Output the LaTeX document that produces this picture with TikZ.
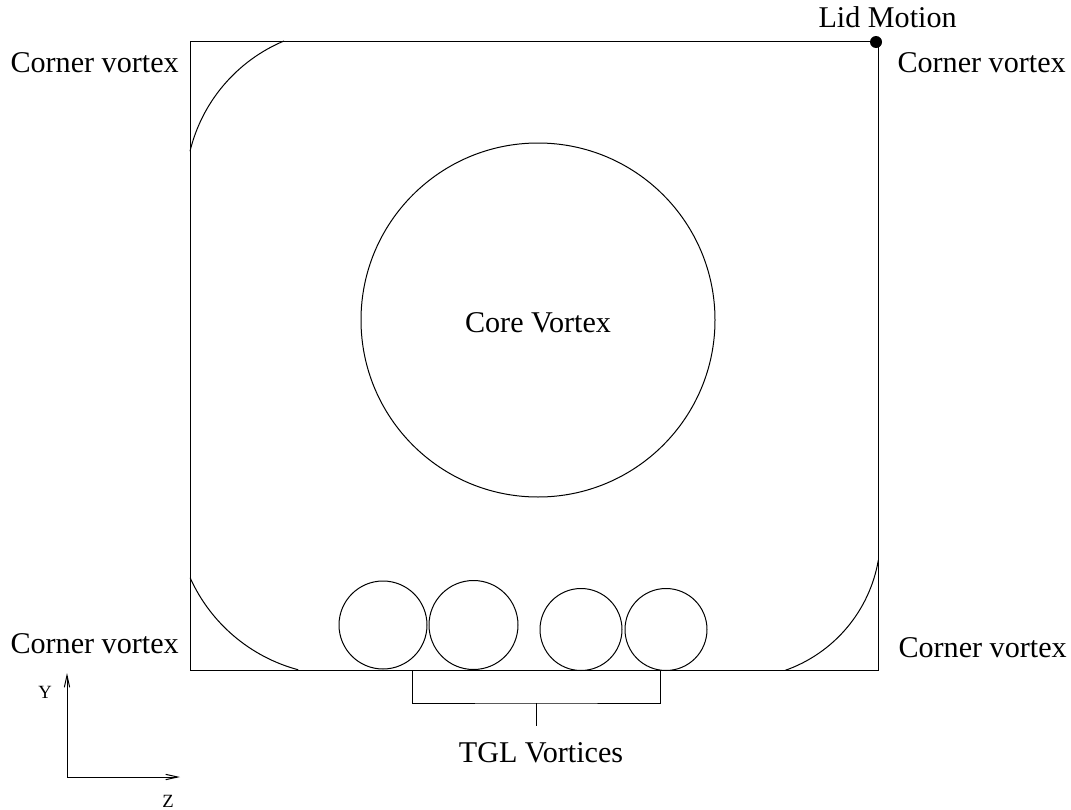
\documentclass[tikz,border=0pt]{standalone}
\usepackage{fontspec}
\setmainfont{Liberation Serif}
\usetikzlibrary{arrows.meta}

\begin{document}
\begin{tikzpicture}[x=0.75pt, y=-0.75pt, line width=0.75pt,
    >={Straight Barb[length=9pt, width=4pt]},
    lbl/.style={anchor=base west, inner sep=0pt, font=\fontsize{22.6}{27}\selectfont},
    axlbl/.style={inner sep=0pt, font=\fontsize{14}{16}\selectfont},
    vortex/.style={draw, circle, inner sep=0pt}]

    \useasboundingbox (0,0) rectangle (1071,810);

    % Define the corners of the cavity
    \coordinate (TL) at (190,41);
    \coordinate (TR) at (878,41);
    \coordinate (BR) at (878,670);
    \coordinate (BL) at (190,670);

    % Draw the cavity
    \draw (TL) -- (TR) -- (BR) -- (BL) -- cycle;

    % Centres of the corner vortex arcs
    \coordinate (CTL) at (346,189);
    \coordinate (CBL) at (341,510);
    \coordinate (CBR) at (738,536);

    % Draw the corner vortex arcs
    \draw (CTL) ++(193.6:160.5) arc (193.6:247.3:160.5);
    \draw (CBL) ++(105:165.4) arc (105:155.8:165.4);
    \draw (CBR) ++(9.7:142.4) arc (9.7:70.7:142.4);

    % Core vortex in the middle of the cavity
    \node[vortex, minimum size=265.5pt] (core) at (538,320) {};
    \node[lbl, anchor=base] (corelbl) at (538,332) {Core Vortex};

    % TGL vortices along the bottom wall
    \node[vortex, minimum size=66pt] (tgl1) at (383,625) {};
    \node[vortex, minimum size=66.75pt] (tgl2) at (473.5,625) {};
    \node[vortex, minimum size=61.5pt] (tgl3) at (581,629.5) {};
    \node[vortex, minimum size=61.5pt] (tgl4) at (666,629.5) {};

    % Bracket grouping the TGL vortices
    \coordinate (brL) at (412,670);
    \coordinate (brR) at (660,670);
    \coordinate (brM) at (536,703);
    \coordinate (brS) at (536,726);
    \draw (brL) |- (brM) -| (brR);
    \draw (brM) -- (brS);
    \node[lbl, anchor=base] (tgllbl) at (541,762) {TGL Vortices};

    % Lid motion marker at the top right corner
    \coordinate (lid) at (876,42);
    \fill (lid) circle (4.5pt);
    \node[lbl] (lidlbl) at (818,27) {Lid Motion};

    % Corner vortex labels
    \node[lbl] (cvTL) at (10,72) {Corner vortex};
    \node[lbl] (cvTR) at (897,72) {Corner vortex};
    \node[lbl] (cvBL) at (10,653) {Corner vortex};
    \node[lbl] (cvBR) at (898,657) {Corner vortex};

    % Coordinate axes
    \coordinate (ax) at (67,777);
    \coordinate (axY) at (67,673);
    \coordinate (axZ) at (180,777);
    \draw[->] (ax) -- (axY);
    \draw[->] (ax) -- (axZ);
    \node[axlbl] (ylbl) at (45,692) {Y};
    \node[axlbl] (zlbl) at (168,801) {Z};

\end{tikzpicture}
\end{document}
